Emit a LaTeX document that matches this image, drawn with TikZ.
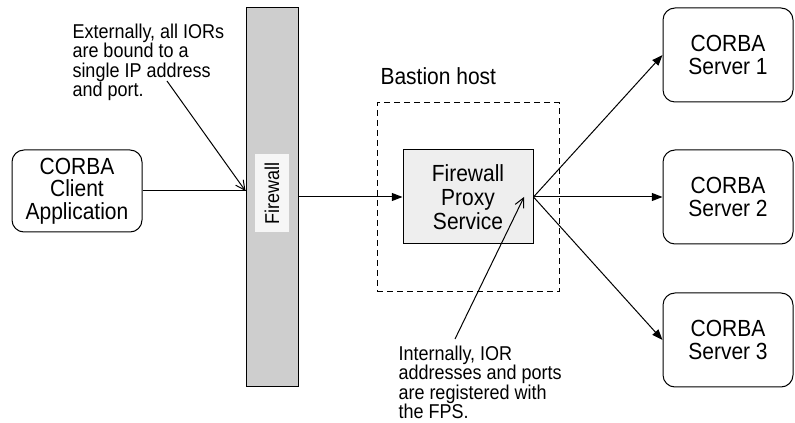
\documentclass[tikz,border=0pt]{standalone}
\usepackage{fontspec}
\setmainfont[FakeStretch=0.9]{Liberation Sans}
\usetikzlibrary{arrows.meta}
\definecolor{fwgray}{RGB}{206,206,206}
\definecolor{fpsgray}{RGB}{238,238,238}
\definecolor{lblgray}{RGB}{246,246,246}
\begin{document}
\begin{tikzpicture}[x=0.75pt,y=-0.75pt,
  line width=0.75pt,
  boxfont/.style={font=\fontsize{17.5}{17}\selectfont},
  notefont/.style={font=\fontsize{15}{14.6}\selectfont},
  srv/.style={draw, rounded corners=9pt, minimum width=97.5pt, minimum height=70.5pt, align=center, boxfont, inner sep=0pt},
  note/.style={notefont, align=left, inner sep=0pt, anchor=north west},
  tri/.style={-{Triangle[length=8pt,width=6pt]}},
  barb/.style={-{Straight Barb[length=7pt,width=7pt]}}]
\useasboundingbox (0,0) rectangle (795,423);
% firewall
\node[draw, fill=fwgray, minimum width=39pt, minimum height=284.25pt, inner sep=0pt] (fw) at (272,197.5) {};
\node[fill=lblgray, rotate=90, notefont, inner sep=0pt, minimum width=58pt, minimum height=25pt] (fwl) at (272,193) {Firewall};
% client
\node[srv, minimum height=61.5pt] (client) at (77,191) {CORBA\\Client\\Application};
% servers
\node[srv] (s1) at (728,55) {CORBA\\Server 1};
\node[srv] (s2) at (728,197) {CORBA\\Server 2};
\node[srv] (s3) at (728,340) {CORBA\\Server 3};
% bastion
\node[draw, dash pattern=on 4.5pt off 3pt, minimum width=136.5pt, minimum height=141.75pt, inner sep=0pt] (bastion) at (468,197.5) {};
\node[anchor=base west, boxfont, inner sep=0pt] (bl) at (380,85) {Bastion host};
\node[draw, fill=fpsgray, minimum width=97.5pt, minimum height=70.5pt, align=center, font=\fontsize{17.5}{18}\selectfont, inner sep=0pt] (fps) at (468,197) {Firewall\\Proxy\\Service};
% notes
\node[note] (t1) at (72,23.5) {Externally, all IORs\\are bound to a\\single IP address\\and port.};
\node[note] (t2) at (398,345.5) {Internally, IOR\\addresses and ports\\are registered with\\the FPS.};
\coordinate (c1) at (167,81);
\coordinate (c2) at (455,339);
\coordinate (fpsp) at (524,197);
% connectors
\draw (client.east) -- (client.east -| fw.west);
\draw[tri] (fw.east |- fps.west) -- (fps.west);
\draw[tri] (fps.east) -- (s1.west);
\draw[tri] (fps.east) -- (s2.west);
\draw[tri] (fps.east) -- (s3.west);
\draw[barb] (c1) -- (client.east -| fw.west);
\draw[barb] (c2) -- (fpsp);
\end{tikzpicture}
\end{document}
